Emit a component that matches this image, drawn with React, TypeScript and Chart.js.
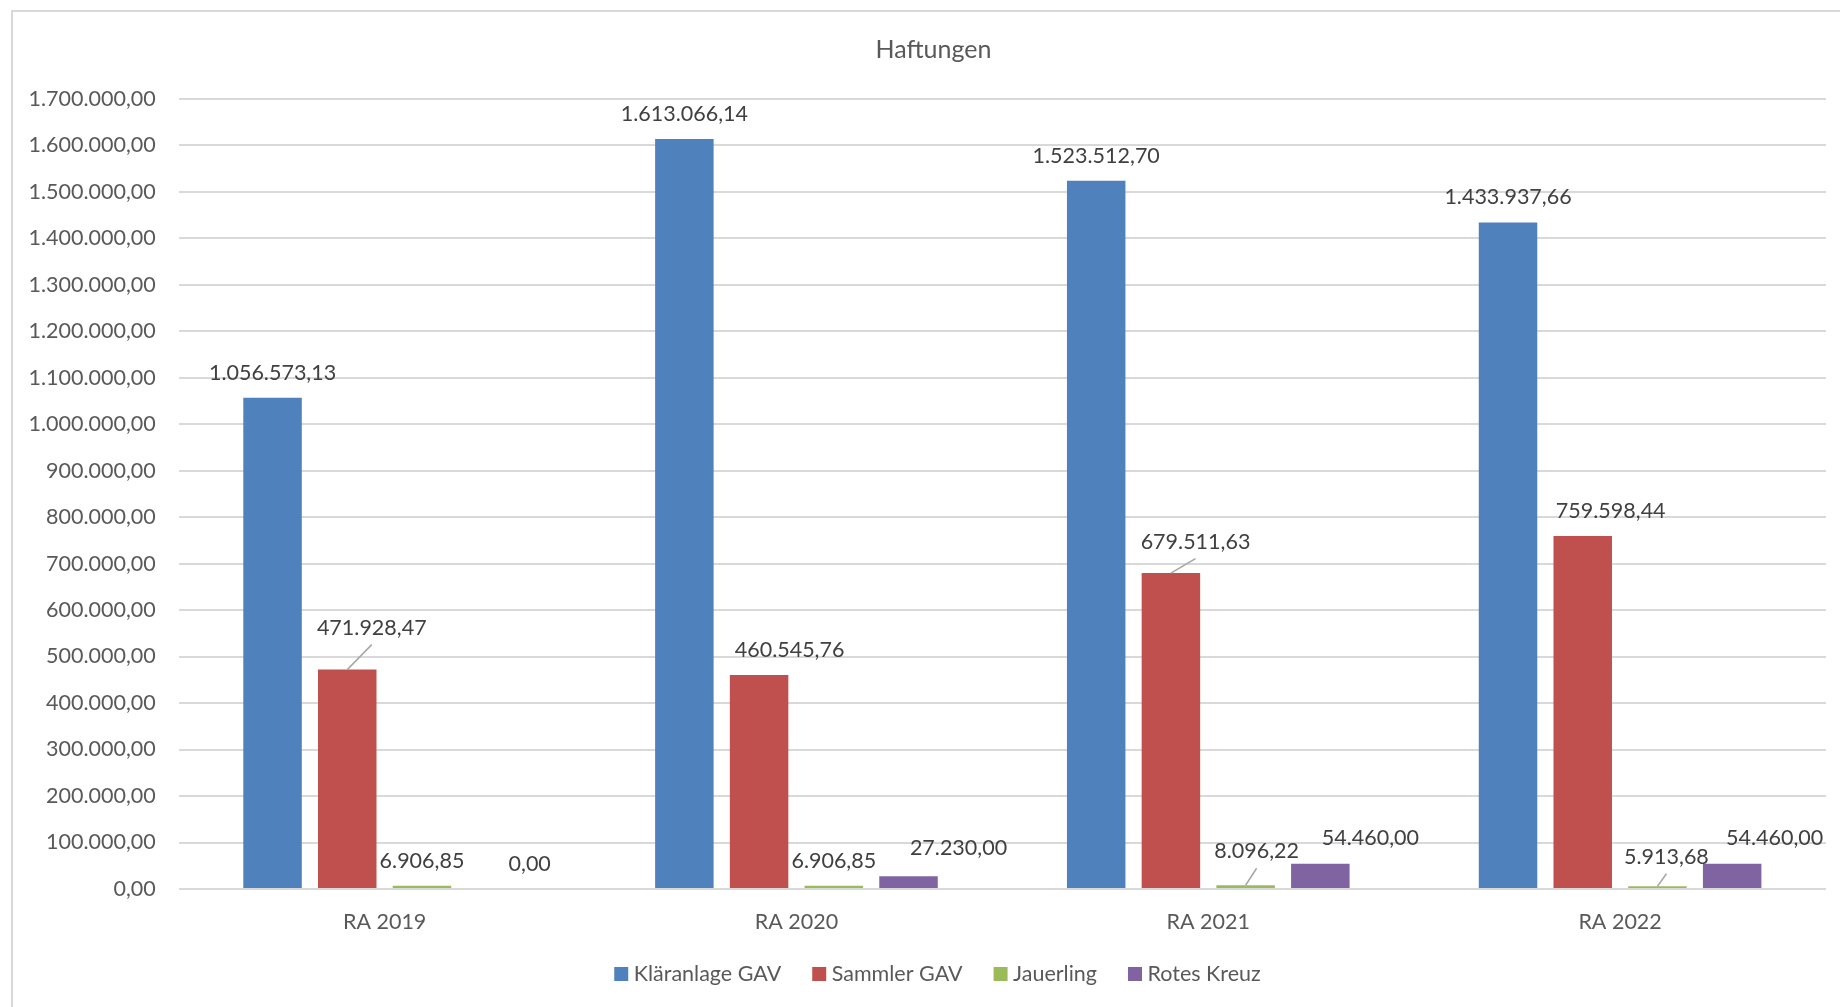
import React, { useEffect, useRef } from "react";
import { Chart, registerables } from "chart.js";

Chart.register(...registerables);

// ---------- data ----------
const chartTitle = "Haftungen";
const categories = ["RA 2019", "RA 2020", "RA 2021", "RA 2022"];
const seriesNames = ["Kläranlage GAV", "Sammler GAV", "Jauerling", "Rotes Kreuz"];
const klaeranlageGAV = [1056573.13, 1613066.14, 1523512.7, 1433937.66];
const sammlerGAV = [471928.47, 460545.76, 679511.63, 759598.44];
const jauerling = [6906.85, 6906.85, 8096.22, 5913.68];
const rotesKreuz = [0, 27230, 54460, 54460];
const yMin = 0;
const yMax = 1700000;
const yStep = 100000;

// ---------- style ----------
const seriesColors = ["#4F81BD", "#C0504D", "#9BBB59", "#8064A2"];
const FONT = "Lato";
const TEXT_SIZE = 21.5;
const TITLE_SIZE = 25;
const AXIS_COLOR = "#595959";
const LABEL_COLOR = "#404040";
const GRID_COLOR = "#d9d9d9";
// manual data label displacements (Excel-like) : [dx, dy, leaderLine]
const labelShift: [number, number, boolean][][] = [
  [[0, 0, false], [0, 0, false], [0, 0, false], [0, 0, false]],
  [[24.5, -17, true], [30.5, 0, false], [24.6, -6.5, true], [28, 0, false]],
  [[0, 0, false], [0, 0, false], [11, -9, true], [9, -4.5, true]],
  [[33, 0, false], [50, -3, false], [50, -1, false], [42.5, -1, false]],
];

function fmt(v: number): string {
  const neg = v < 0;
  const s = Math.abs(v).toFixed(2);
  const [i, f] = s.split(".");
  const withDots = i.replace(/\B(?=(\d{3})+(?!\d))/g, ".");
  return (neg ? "-" : "") + withDots + "," + f;
}

const framePlugin = {
  id: "frame",
  beforeDraw(chart: any) {
    const ctx = chart.ctx;
    ctx.save();
    ctx.fillStyle = "#ffffff";
    ctx.fillRect(0, 0, chart.width, chart.height);
    ctx.strokeStyle = GRID_COLOR;
    ctx.lineWidth = 2;
    ctx.strokeRect(1, 1, chart.width - 2, chart.height - 2);
    ctx.restore();
  },
};

const titlePlugin = {
  id: "centeredTitle",
  afterDraw(chart: any) {
    const ctx = chart.ctx;
    ctx.save();
    ctx.font = `${TITLE_SIZE}px ${FONT}`;
    ctx.fillStyle = AXIS_COLOR;
    ctx.textAlign = "center";
    ctx.textBaseline = "middle";
    ctx.fillText(chartTitle, chart.width / 2, chart.chartArea.top - 48.5);
    ctx.restore();
  },
};

const dataLabelPlugin = {
  id: "dataLabels",
  afterDatasetsDraw(chart: any) {
    const ctx = chart.ctx;
    ctx.save();
    ctx.font = `${TEXT_SIZE}px ${FONT}`;
    ctx.textAlign = "center";
    ctx.textBaseline = "alphabetic";
    chart.data.datasets.forEach((ds: any, di: number) => {
      const meta = chart.getDatasetMeta(di);
      meta.data.forEach((bar: any, i: number) => {
        const { x, y } = bar.getProps(["x", "y"], true);
        const [dx, dy, leader] = labelShift[di][i];
        const tx = x + dx;
        const ty = y - 18 + dy;
        if (leader) {
          ctx.strokeStyle = "#a6a6a6";
          ctx.lineWidth = 1.5;
          ctx.beginPath();
          ctx.moveTo(x, y);
          ctx.lineTo(tx, ty + 10);
          ctx.stroke();
        }
        ctx.fillStyle = LABEL_COLOR;
        ctx.fillText(fmt(ds.data[i]), tx, ty);
      });
    });
    ctx.restore();
  },
};

const legendPlugin = {
  id: "customLegend",
  afterDraw(chart: any) {
    const ctx = chart.ctx;
    ctx.save();
    ctx.font = `${TEXT_SIZE}px ${FONT}`;
    const box = 14;
    const gap = 5.5;
    const spacing = 31;
    const items = chart.data.datasets.map((ds: any) => ({
      text: ds.label,
      color: ds.backgroundColor,
      w: ctx.measureText(ds.label).width,
    }));
    const total =
      items.reduce((s: number, it: any) => s + box + gap + it.w, 0) +
      spacing * (items.length - 1);
    let x = chart.width / 2 - total / 2 + 4;
    const cy = chart.chartArea.bottom + 85;
    ctx.textAlign = "left";
    ctx.textBaseline = "middle";
    items.forEach((it: any) => {
      ctx.fillStyle = it.color;
      ctx.fillRect(x, cy - box / 2, box, box);
      ctx.fillStyle = AXIS_COLOR;
      ctx.fillText(it.text, x + box + gap, cy);
      x += box + gap + it.w + spacing;
    });
    ctx.restore();
  },
};

export default function App() {
  const ref = useRef<HTMLCanvasElement>(null);

  useEffect(() => {
    const canvas = ref.current;
    if (!canvas) return;
    const seriesValues = [klaeranlageGAV, sammlerGAV, jauerling, rotesKreuz];
    const chart = new Chart(canvas, {
      type: "bar",
      data: {
        labels: categories,
        datasets: seriesNames.map((name, i) => ({
          label: name,
          data: seriesValues[i],
          backgroundColor: seriesColors[i],
          borderWidth: 0,
          categoryPercentage: 0.7257,
          barPercentage: 0.783,
        })),
      },
      options: {
        animation: false,
        responsive: false,
        devicePixelRatio: 1,
        layout: { padding: { left: 5, right: 30, top: 88.7, bottom: 81 } },
        plugins: {
          legend: { display: false },
          tooltip: { enabled: false },
          title: { display: false },
        },
        scales: {
          x: {
            grid: { display: false, drawTicks: false },
            border: { display: false },
            ticks: {
              color: AXIS_COLOR,
              font: { family: FONT, size: TEXT_SIZE },
              padding: 20,
            },
            afterFit: (s: any) => {
              s.height = 50;
            },
          },
          y: {
            min: yMin,
            max: yMax,
            grid: { color: GRID_COLOR, lineWidth: 2, drawTicks: false },
            border: { display: false },
            ticks: {
              stepSize: yStep,
              color: AXIS_COLOR,
              font: { family: FONT, size: TEXT_SIZE },
              padding: 23,
              callback: (v: any) => fmt(Number(v)),
            },
            afterFit: (s: any) => {
              s.width = 162.7;
            },
          },
        },
      },
      plugins: [framePlugin, dataLabelPlugin, titlePlugin, legendPlugin],
    });
    return () => chart.destroy();
  }, []);

  return (
    <div
      style={{
        position: "fixed",
        left: 0,
        top: 0,
        width: 1840,
        height: 1007,
        overflow: "hidden",
        background: "#ffffff",
      }}
    >
      <canvas
        ref={ref}
        width={1845}
        height={1010}
        style={{ position: "absolute", left: 11, top: 10, width: 1845, height: 1010 }}
      />
    </div>
  );
}
